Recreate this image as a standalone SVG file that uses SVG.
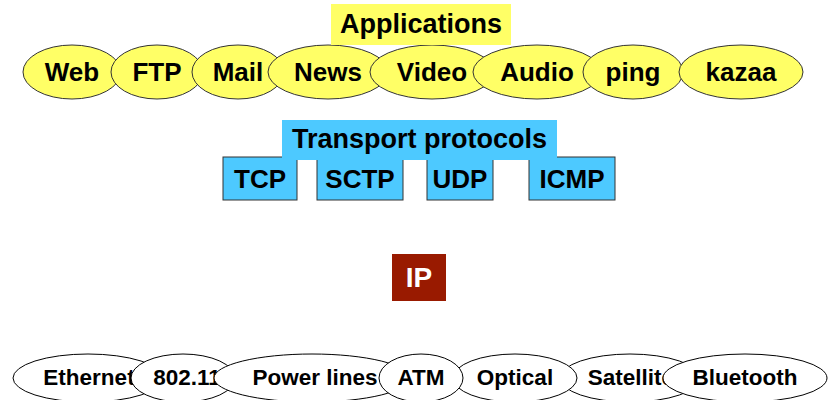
<svg xmlns="http://www.w3.org/2000/svg" width="828" height="400" viewBox="0 0 828 400">
<style>
text{font-family:"Liberation Sans",Arial,sans-serif;font-weight:bold;text-anchor:middle;fill:#000}
.app ellipse{fill:#ffff66;stroke:#333;stroke-width:1}
.app text{font-size:26px}
.tp rect{fill:#4dc9ff;stroke:#333;stroke-width:1}
.tp text{font-size:26px}
.ll ellipse{fill:#fff;stroke:#000;stroke-width:1}
.ll text{font-size:22.5px}
</style>
<rect width="828" height="400" fill="#fff"/>
<g id="app-nodes" class="app">
<g id="web"><ellipse cx="72" cy="72" rx="49" ry="27"/><text x="72" y="81">Web</text></g>
<g id="ftp"><ellipse cx="157" cy="72" rx="46" ry="27"/><text x="157" y="81">FTP</text></g>
<g id="mail"><ellipse cx="238" cy="72" rx="46" ry="27"/><text x="238" y="81">Mail</text></g>
<g id="news"><ellipse cx="328" cy="72" rx="60" ry="27"/><text x="328" y="81">News</text></g>
<g id="video"><ellipse cx="432" cy="72" rx="62" ry="27"/><text x="432" y="81">Video</text></g>
<g id="audio"><ellipse cx="537" cy="72" rx="64" ry="27"/><text x="537" y="81">Audio</text></g>
<g id="ping"><ellipse cx="633" cy="72" rx="50" ry="27"/><text x="633" y="81">ping</text></g>
<g id="kazaa"><ellipse cx="741" cy="72" rx="62" ry="27"/><text x="741" y="81">kazaa</text></g>
</g>
<g id="applications">
<rect x="331" y="4" width="180" height="41" fill="#ffff66"/>
<text x="421" y="33" font-size="27">Applications</text>
</g>
<g id="transport" class="tp">
<g id="tcp"><rect x="223" y="157" width="74" height="43"/><text x="260" y="188">TCP</text></g>
<g id="sctp"><rect x="317" y="157" width="86" height="43"/><text x="360" y="188">SCTP</text></g>
<g id="udp"><rect x="427" y="157" width="66" height="43"/><text x="460" y="188">UDP</text></g>
<g id="icmp"><rect x="529" y="157" width="86" height="43"/><text x="572" y="188">ICMP</text></g>
</g>
<g id="transport-label">
<rect x="282" y="120" width="275" height="40" fill="#4dc9ff"/>
<text x="419.5" y="148" font-size="27">Transport protocols</text>
</g>
<g id="ip">
<rect x="392" y="254" width="54" height="47" fill="#991a00"/>
<text x="419" y="287" font-size="28" style="fill:#fff">IP</text>
</g>
<g id="link-nodes" class="ll">
<g id="ethernet"><ellipse cx="88" cy="378" rx="75" ry="24"/><text x="89" y="385">Ethernet</text></g>
<g id="wifi"><ellipse cx="183" cy="378" rx="52" ry="24"/><text x="187" y="385">802.11</text></g>
<g id="powerlines"><ellipse cx="312" cy="378" rx="98" ry="24"/><text x="315" y="385">Power lines</text></g>
<g id="satellite"><ellipse cx="630" cy="378" rx="70" ry="24"/><text x="631" y="385">Satellite</text></g>
<g id="optical"><ellipse cx="515" cy="378" rx="62" ry="24"/><text x="515" y="385">Optical</text></g>
<g id="atm"><ellipse cx="421" cy="378" rx="42" ry="24"/><text x="421" y="385">ATM</text></g>
<g id="bluetooth"><ellipse cx="745" cy="378" rx="82" ry="24"/><text x="745" y="385">Bluetooth</text></g>
</g>
<g id="connectors"/>
</svg>
